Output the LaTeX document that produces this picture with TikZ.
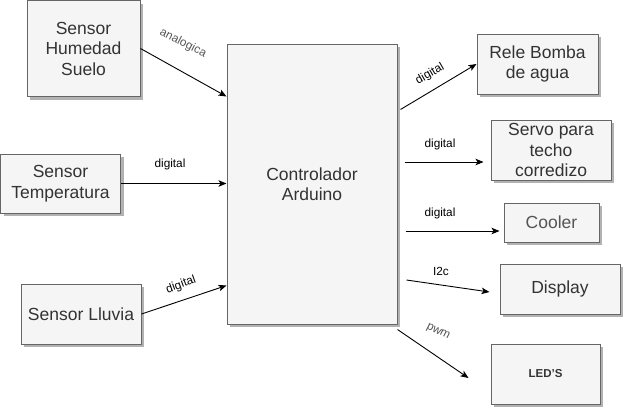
\documentclass[tikz,border=0pt]{standalone}
\usepackage{fontspec}
\setmainfont{Liberation Sans}
\usetikzlibrary{shadows,arrows.meta}

\definecolor{boxfill}{HTML}{F5F5F5}
\definecolor{boxline}{HTML}{666666}
\definecolor{boxtext}{HTML}{333333}
\definecolor{labelgray}{HTML}{555555}

\begin{document}
\begin{tikzpicture}[x=1pt, y=-1pt]
  \tikzstyle{o} = [rectangle, draw=boxline, fill=boxfill, text=boxtext,
  line width=1pt, inner sep=0pt, align=center,
  font=\fontsize{17.5}{20.5}\selectfont,
  drop shadow={shadow xshift=3pt, shadow yshift=-3pt, opacity=0.3, fill=black}];
  \tikzstyle{a} = [line width=0.9pt, -{Stealth[length=8pt, width=6.5pt, inset=2pt]}];
  \tikzstyle{l} = [inner sep=0pt, font=\fontsize{11.8}{13}\selectfont];

  \useasboundingbox (0,0) rectangle (623,408);

  \node[o, minimum width=113pt, minimum height=96pt] (hum) at (83.5,48.5) {Sensor\\Humedad\\Suelo};
  \node[o, minimum width=120pt, minimum height=59pt] (temp) at (60.5,183.5) {Sensor\\Temperatura};
  \node[o, minimum width=120pt, minimum height=60pt] (rain) at (81,314) {Sensor Lluvia};

  \node[o, minimum width=170pt, minimum height=280pt] (ctrl) at (312,184) {Controlador\\Arduino};

  \node[o, minimum width=121pt, minimum height=60pt] (pump) at (537.5,64) {Rele Bomba\\de agua};
  \node[o, minimum width=120pt, minimum height=60pt] (servo) at (551,150) {Servo para\\techo\\corredizo};
  \node[o, minimum width=95pt, minimum height=39pt, text=labelgray] (cool) at (551.5,222.5) {Cooler};
  \node[o, minimum width=120pt, minimum height=50pt] (disp) at (560,289) {Display};
  \node[o, minimum width=109pt, minimum height=60pt,
  font=\fontsize{11.5}{13}\selectfont\bfseries] (leds) at (545.5,374) {LED'S};

  \draw[a] (hum.east) to ([yshift=-53pt]ctrl.north west);
  \draw[a] (temp.east) to (temp.east -| ctrl.west);
  \draw[a] (rain.east) to ([yshift=39pt]ctrl.south west);

  \draw[a] ([xshift=3pt,yshift=-66pt]ctrl.north east) to (pump.west);
  \draw[a] ([xshift=7pt,yshift=22pt]ctrl.east) to ([xshift=-7pt,yshift=-12pt]servo.west);
  \draw[a] ([xshift=8pt,yshift=-47pt]ctrl.east) to ([xshift=-4pt,yshift=-8.5pt]cool.west);
  \draw[a] ([xshift=9pt,yshift=-96pt]ctrl.east) to ([xshift=-10pt,yshift=-3pt]disp.west);
  \draw[a] ([yshift=-5pt]ctrl.south east) to ([xshift=-22pt,yshift=-4pt]leds.west);

  \node[l, rotate=-27, text=labelgray] (l1) at (183,43) {analogica};
  \node[l] (l2) at (170,164) {digital};
  \node[l, rotate=20] (l3) at (181,285) {digital};
  \node[l, rotate=30] (l4) at (430,74) {digital};
  \node[l] (l5) at (440,144) {digital};
  \node[l] (l6) at (440,213) {digital};
  \node[l] (l7) at (441,271) {I2c};
  \node[l, rotate=-27, text=labelgray] (l8) at (438,332) {pwm};
\end{tikzpicture}
\end{document}
